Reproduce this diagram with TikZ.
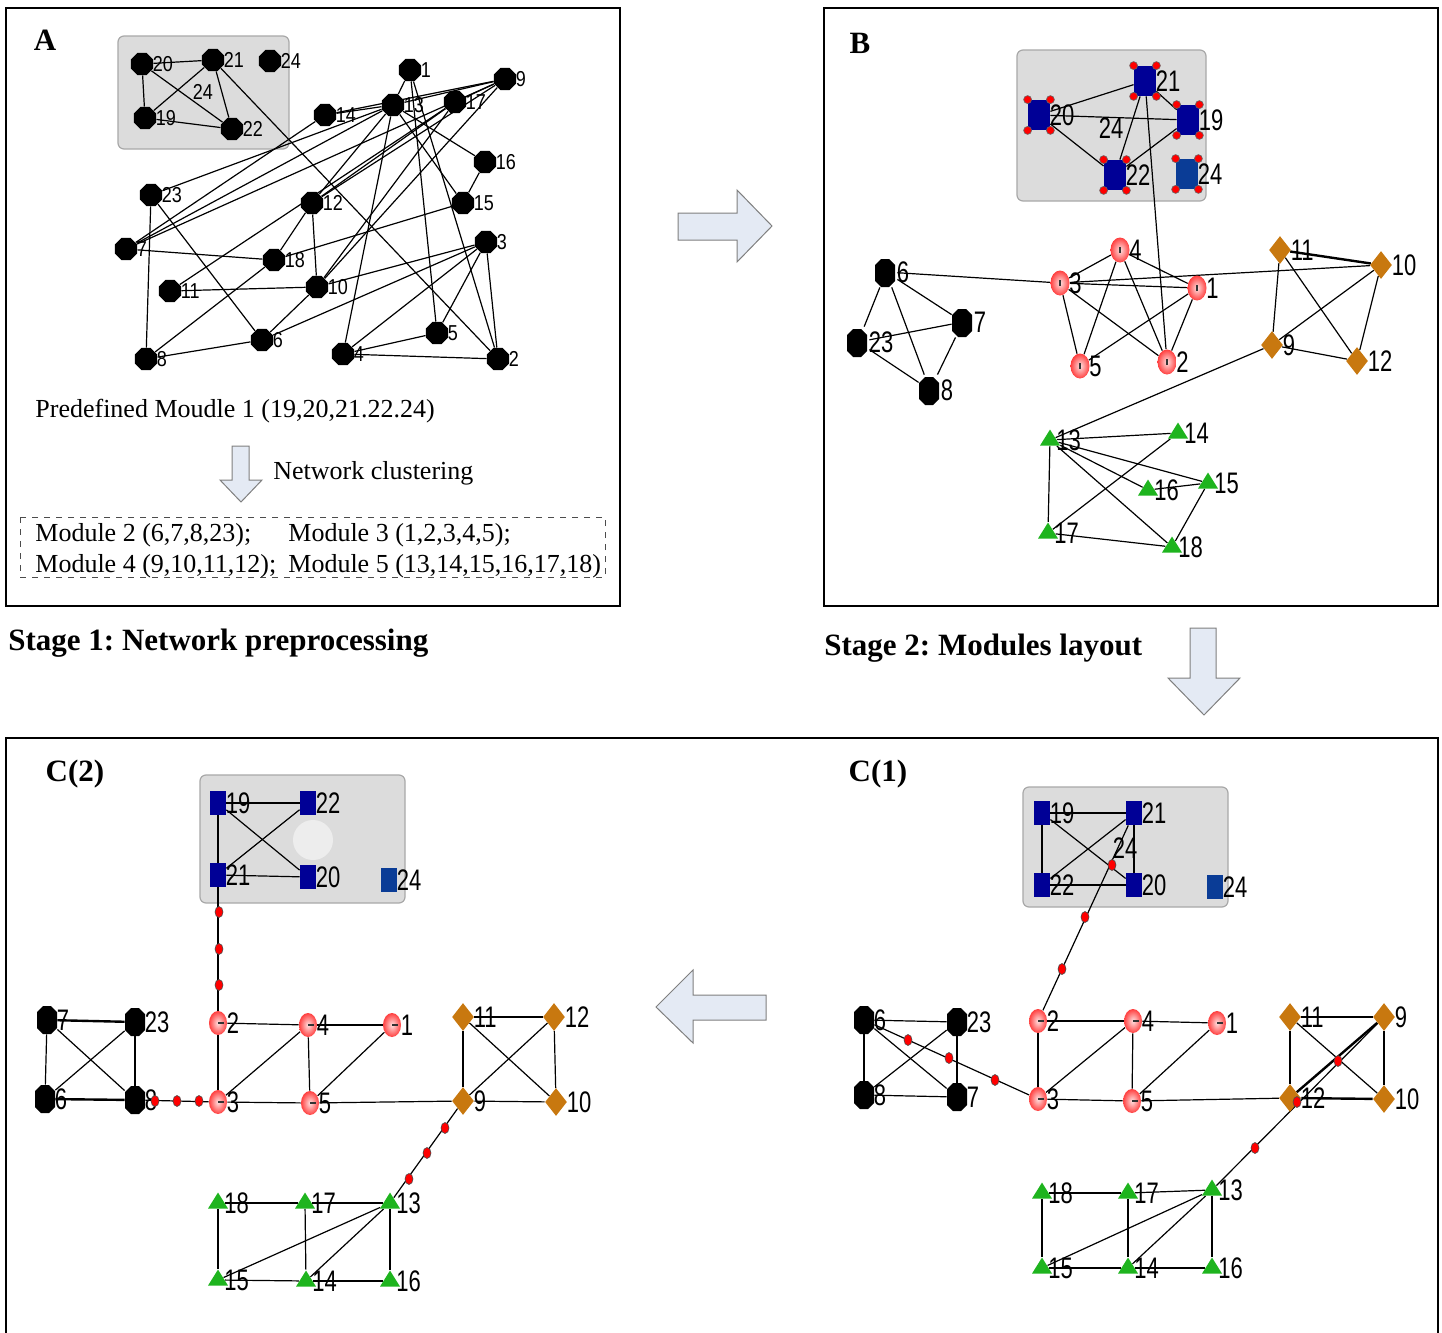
\documentclass[tikz,border=0pt]{standalone}
\usepackage{fontspec}
\setmainfont{Liberation Serif}
\newfontfamily\labfont{Liberation Sans}
\usetikzlibrary{shapes.geometric}
\definecolor{boxgrey}{HTML}{DCDCDC}
\definecolor{boxline}{HTML}{A8A8A8}
\definecolor{arrfill}{HTML}{E4EAF4}
\definecolor{arrline}{HTML}{7F7F7F}
\definecolor{sqblue}{HTML}{000096}
\definecolor{sqblueb}{HTML}{0A3C96}
\definecolor{dorange}{HTML}{C8780F}
\definecolor{tgreen}{HTML}{1EB41E}
\pgfdeclarelayer{bg}
\pgfdeclarelayer{edges}
\pgfsetlayers{bg,edges,main}
\frenchspacing
\newcommand{\alb}[1]{\scalebox{1}[1.2]{\labfont\fontsize{9}{9}\selectfont #1}}
\newcommand{\clb}[1]{\scalebox{1}[1.35]{\labfont\fontsize{11}{11}\selectfont #1}}

\begin{document}
\begin{tikzpicture}[x=0.5pt,y=-0.5pt,
    ed/.style={line width=0.6pt},
    edd/.style={line width=1.2pt},
    frame/.style={draw, line width=0.8pt},
    gbox/.style={draw=boxline, fill=boxgrey, line width=0.6pt, rounded corners=3pt},
    blockarr/.style={draw=arrline, fill=arrfill, line width=0.5pt},
    ttl/.style={font=\fontsize{15.5}{18}\selectfont\bfseries, inner sep=0},
    body/.style={font=\fontsize{13}{15}\selectfont, inner sep=0, anchor=west},
    lab/.style={inner sep=0.3pt},
    label distance=-0.8pt,
    aoct/.style={regular polygon, regular polygon sides=8, fill=black, minimum size=12pt, inner sep=0},
    oct/.style={rectangle, minimum width=10pt, minimum height=14pt, inner sep=0,
        path picture={\fill[black] (path picture bounding box.south west) ++(0,3pt) -- ++(0,8pt) -- ++(3pt,3pt)
          -- ++(4pt,0) -- ++(3pt,-3pt) -- ++(0,-8pt) -- ++(-3pt,-3pt) -- ++(-4pt,0) -- cycle;}},
    pnk/.style={ellipse, shading=radial, inner color=red!12, outer color=red!75, minimum width=9.5pt, minimum height=12.5pt, inner sep=0,
        path picture={\fill[black!80] ([xshift=-0.4pt,yshift=-1.5pt]path picture bounding box.center) rectangle ++(0.8pt,3pt);}},
    pnkc/.style={ellipse, shading=radial, inner color=red!12, outer color=red!75, minimum width=9pt, minimum height=12pt, inner sep=0,
        path picture={\fill[black!80] ([yshift=-0.4pt]path picture bounding box.center) rectangle ++(3pt,0.8pt);}},
    dia/.style={diamond, fill=dorange, minimum width=11pt, minimum height=14pt, inner sep=0},
    tri/.style={isosceles triangle, shape border rotate=90, isosceles triangle stretches, fill=tgreen, minimum width=10pt, minimum height=8pt, inner sep=0},
    bsq/.style={rectangle, fill=sqblue, minimum width=11pt, minimum height=15pt, inner sep=0},
    csq/.style={rectangle, fill=sqblue, minimum width=8pt, minimum height=12pt, inner sep=0},
    rd/.style={ellipse, fill=red, draw=black!70, line width=0.3pt, minimum width=4pt, minimum height=5.5pt, inner sep=0}]
\useasboundingbox (0,0) rectangle (1442,1333);

% frames
\draw[frame] (6,8) rectangle (620,606);
\draw[frame] (824,8) rectangle (1438,606);
\draw[frame] (6,1345) -- (6,738) -- (1438,738) -- (1438,1345);

% block arrows
\draw[blockarr] (678,213) -- (737,213) -- (737,190) -- (772,226) -- (737,262) -- (737,240) -- (678,240) -- cycle;
\draw[blockarr] (1190,628) -- (1216,628) -- (1216,678) -- (1240,678) -- (1204,715) -- (1168,678) -- (1190,678) -- cycle;
\draw[blockarr] (766,995) -- (693,995) -- (693,970) -- (656,1007) -- (693,1043) -- (693,1020) -- (766,1020) -- cycle;
\draw[blockarr] (232,446) -- (249,446) -- (249,480) -- (262,480) -- (241,502) -- (220,480) -- (232,480) -- cycle;

% titles and texts
\node[ttl] (tA) at (45,40) {A};
\node[ttl] (tB) at (860,43) {B};
\node[ttl] (tC2) at (75,774) {C(2)};
\node[ttl] (tC1) at (878,774) {C(1)};
\node[ttl, anchor=west] (st1) at (8,643) {Stage 1: Network preprocessing};
\node[ttl, anchor=west] (st2) at (824,648) {Stage 2: Modules layout};
\node[body] (pre) at (35,411) {Predefined Moudle 1 (19,20,21.22.24)};
\node[body] (clu) at (273,473) {Network clustering};
\draw[dashed, line width=0.4pt, black!70] (20,517) rectangle (605,577);
\node[body] (m2) at (35,535) {Module 2 (6,7,8,23);};
\node[body] (m3) at (288,535) {Module 3 (1,2,3,4,5);};
\node[body] (m4) at (35,566) {Module 4 (9,10,11,12);};
\node[body] (m5) at (288,566) {Module 5 (13,14,15,16,17,18)};

% ---------- panel A ----------
\begin{pgfonlayer}{bg}
\draw[gbox] (118,36) rectangle (289,149);
\draw[gbox] (1017,50) rectangle (1206,201);
\draw[gbox] (200,775) rectangle (405,903);
\fill[white, opacity=0.5] (313,840) circle (10pt);
\draw[gbox] (1023,787) rectangle (1228,907);
\end{pgfonlayer}

\foreach \n/\x/\y in {20/142/64, 21/213/60, 24/270/61, 19/145/118, 22/232/129,
    1/410/70, 9/505/79, 13/393/105, 17/455/102, 14/325/115, 16/485/162, 15/463/203,
    12/312/203, 23/151/195, 7/126/249, 18/274/260, 11/170/291, 10/317/287,
    3/486/242, 5/437/333, 6/262/340, 8/146/359, 4/343/354, 2/498/359}
  \node[aoct, label={[lab]right:\alb{\n}}] (a\n) at (\x,\y) {};
\node[lab] (at24) at (203,92) {\alb{24}};

\begin{pgfonlayer}{edges}
\foreach \u/\v in {20/21, 20/19, 20/22, 19/21, 19/22, 21/22, 21/2, 14/13, 14/7, 23/13,
    7/9, 7/13, 23/8, 23/6, 7/18, 11/10, 11/17, 12/17, 12/9, 12/18, 12/10, 8/18, 8/6,
    6/10, 6/3, 10/3, 18/15, 4/13, 4/3, 4/5, 4/2, 5/1, 5/3, 2/3, 2/1, 13/15, 13/16,
    16/15, 10/9, 10/17, 9/13, 9/17, 14/9, 1/13, 13/12}
  \draw[ed] (a\u) -- (a\v);
\end{pgfonlayer}

% ---------- panel B ----------
\foreach \n/\x/\y in {20/1039/115, 21/1145/81, 19/1188/120, 22/1115/175}
  \node[bsq, label={[lab]right:\clb{\n}}] (b\n) at (\x,\y) {};
\node[bsq, fill=sqblueb, label={[lab]right:\clb{24}}] (b24) at (1187,174) {};
\foreach \n in {20,21,19,22,24}
  \foreach \c in {north west, north east, south west, south east}
    \filldraw[fill=red, draw=black!60, line width=0.3pt] (b\n.\c) circle (2pt);
\node[lab] (bt24) at (1111,128) {\clb{24}};
\foreach \n/\x/\y in {6/886/272, 7/963/322, 23/858/342, 8/930/390}
  \node[oct, minimum width=11pt, minimum height=15pt, label={[lab]right:\clb{\n}}] (b\n) at (\x,\y) {};
\foreach \n/\x/\y in {4/1120/250, 3/1060/283, 1/1197/288, 5/1080/366, 2/1167/362}
  \node[pnk, label={[lab]right:\clb{\n}}] (b\n) at (\x,\y) {};
\foreach \n/\x/\y in {11/1280/250, 10/1381/265, 9/1272/345, 12/1357/361}
  \node[dia, label={[lab]right:\clb{\n}}] (b\n) at (\x,\y) {};
\foreach \n/\x/\y in {13/1050/440, 14/1178/433, 16/1148/490, 15/1208/483, 17/1048/533, 18/1172/547}
  \node[tri, label={[lab]right:\clb{\n}}] (b\n) at (\x,\y) {};

\begin{pgfonlayer}{edges}
\foreach \u/\v in {20/21, 20/19, 20/22, 21/22, 21/19, 22/19, 21/2,
    6/7, 6/23, 6/8, 23/7, 23/8, 7/8, 6/3,
    3/4, 3/5, 3/2, 4/5, 4/2, 4/1, 1/5, 1/2, 3/1, 3/10,
    11/9, 11/12, 9/10, 9/12, 10/12, 9/13,
    13/14, 13/16, 13/15, 13/18, 13/17, 14/17, 16/15, 15/18, 17/18}
  \draw[ed] (b\u) -- (b\v);
\draw[edd] (b11) -- (b10);
\end{pgfonlayer}

% ---------- panel C(1) ----------
\foreach \n/\x/\y in {19/1042/813, 21/1134/813, 22/1042/885, 20/1134/885}
  \node[csq, label={[lab]right:\clb{\n}}] (c\n) at (\x,\y) {};
\node[csq, fill=sqblueb, label={[lab]right:\clb{24}}] (c24) at (1215,887) {};
\node[lab] (ct24) at (1125,848) {\clb{24}};
\foreach \n/\x/\y in {6/864/1020, 23/957/1022, 8/864/1095, 7/957/1097}
  \node[oct, label={[lab]right:\clb{\n}}] (c\n) at (\x,\y) {};
\foreach \n/\x/\y in {2/1038/1021, 4/1133/1021, 1/1217/1023, 3/1038/1099, 5/1132/1101}
  \node[pnkc, label={[lab]right:\clb{\n}}] (c\n) at (\x,\y) {};
\foreach \n/\x/\y in {11/1290/1017, 9/1384/1017, 12/1290/1098, 10/1384/1099}
  \node[dia, label={[lab]right:\clb{\n}}] (c\n) at (\x,\y) {};
\foreach \n/\x/\y in {18/1042/1193, 17/1128/1193, 13/1212/1190, 15/1042/1268, 14/1128/1268, 16/1212/1268}
  \node[tri, label={[lab]right:\clb{\n}}] (c\n) at (\x,\y) {};
\foreach \n/\x/\y in {p1/1112/865, p2/1085/917, p3/1062/969, q1/908/1040, q2/949/1058, q3/995/1080,
    r1/1255/1148, r2/1297/1102, r3/1338/1061}
  \node[rd] (c\n) at (\x,\y) {};

\begin{pgfonlayer}{edges}
\foreach \u/\v in {19/21, 22/20, 19/22, 21/20, 19/20, 21/22, 21/2,
    6/23, 8/7, 6/8, 23/7, 6/7, 23/8, 6/3,
    2/4, 4/1, 2/3, 4/5, 3/4, 5/1, 3/5, 5/12,
    11/9, 11/12, 9/10, 11/10, 13/9,
    18/17, 17/13, 18/15, 17/14, 13/16, 15/14, 14/16, 13/15, 13/14}
  \draw[ed] (c\u) -- (c\v);
\draw[edd] (c12) -- (c10);
\draw[edd] (c12) -- (c9);
\end{pgfonlayer}

% ---------- panel C(2) ----------
\foreach \n/\x/\y in {19/218/803, 22/308/803, 21/218/875, 20/308/877}
  \node[csq, label={[lab]right:\clb{\n}}] (d\n) at (\x,\y) {};
\node[csq, fill=sqblueb, label={[lab]right:\clb{24}}] (d24) at (389,880) {};
\foreach \n/\x/\y in {7/47/1020, 23/135/1022, 6/45/1099, 8/135/1100}
  \node[oct, label={[lab]right:\clb{\n}}] (d\n) at (\x,\y) {};
\foreach \n/\x/\y in {2/218/1023, 4/308/1025, 1/392/1025, 3/218/1102, 5/310/1103}
  \node[pnkc, label={[lab]right:\clb{\n}}] (d\n) at (\x,\y) {};
\foreach \n/\x/\y in {11/463/1017, 12/554/1017, 9/463/1101, 10/556/1102}
  \node[dia, label={[lab]right:\clb{\n}}] (d\n) at (\x,\y) {};
\foreach \n/\x/\y in {18/218/1203, 17/305/1203, 13/390/1203, 15/218/1280, 14/306/1281, 16/390/1281}
  \node[tri, label={[lab]right:\clb{\n}}] (d\n) at (\x,\y) {};
\foreach \n/\x/\y in {p1/219/912, p2/219/949, p3/219/985, q1/155/1101, q2/177/1101, q3/199/1101,
    r1/445/1128, r2/427/1153, r3/409/1179}
  \node[rd] (d\n) at (\x,\y) {};

\begin{pgfonlayer}{edges}
\foreach \u/\v in {19/22, 21/20, 19/21, 19/20, 21/22, 21/2,
    7/6, 23/8, 7/8, 23/6, 8/3,
    2/4, 4/1, 2/3, 4/5, 3/4, 5/1, 3/5, 5/9,
    11/12, 11/9, 12/10, 9/10, 11/10, 9/12, 9/13,
    18/15, 17/14, 13/16, 15/14, 14/16, 13/15, 13/14}
  \draw[ed] (d\u) -- (d\v);
\foreach \u/\v in {7/23, 6/8, 18/17, 17/13}
  \draw[edd] (d\u) -- (d\v);
\end{pgfonlayer}
\end{tikzpicture}
\end{document}
